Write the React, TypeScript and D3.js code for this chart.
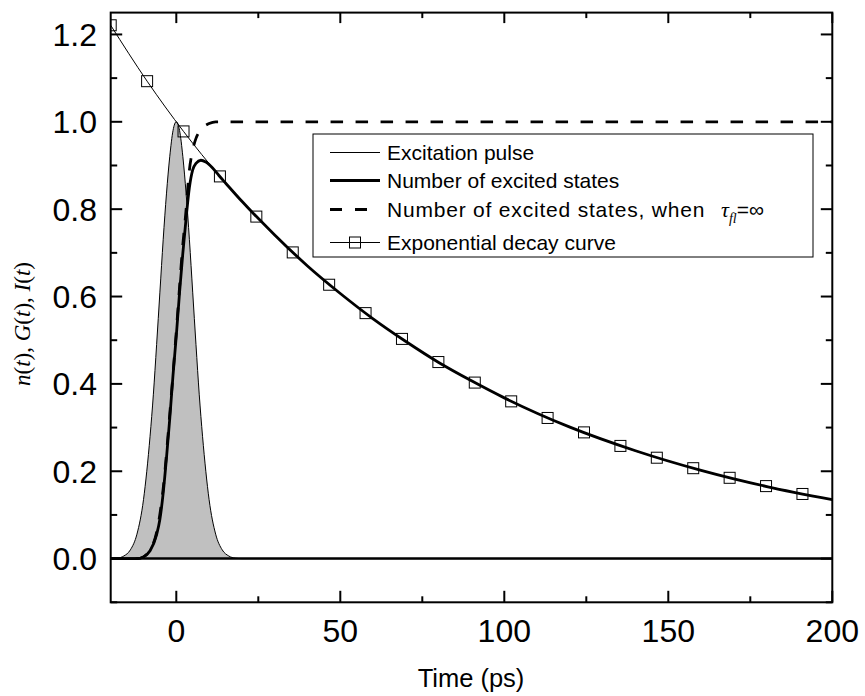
import React from 'react';
import * as d3 from 'd3';

// Excitation pulse G(t)
const pulseT = [-20, -18, -16, -14, -12, -10, -9, -8, -7, -6, -5, -4, -3, -2, -1, 0, 1, 2, 3, 4, 5, 6, 7, 8, 9, 10, 12, 14, 16, 18, 20, 200];
const pulseG = [0, 0.001, 0.006, 0.02, 0.056, 0.135, 0.2, 0.28, 0.375, 0.49, 0.61, 0.73, 0.835, 0.92, 0.98, 1.0, 0.98, 0.92, 0.835, 0.73, 0.61, 0.49, 0.375, 0.28, 0.2, 0.135, 0.056, 0.02, 0.006, 0.001, 0, 0];

// Number of excited states n(t)
const nT = [-20, -12, -10, -8, -6, -5, -4, -3, -2, -1, 0, 1, 2, 3, 4, 5, 6, 7.5, 9, 11, 13, 15, 20, 30, 40, 50, 60, 70, 80, 90, 100, 120, 140, 160, 180, 200];
const nVal = [0, 0, 0.004, 0.018, 0.055, 0.09, 0.15, 0.23, 0.32, 0.42, 0.51, 0.61, 0.7, 0.78, 0.85, 0.89, 0.905, 0.912, 0.908, 0.895, 0.877, 0.86, 0.818, 0.741, 0.67, 0.607, 0.549, 0.497, 0.449, 0.407, 0.368, 0.301, 0.247, 0.202, 0.165, 0.135];

// Number of excited states when tau_fl = infinity
const infT = [-20, -12, -10, -8, -6, -4, -2, 0, 2, 3, 3.5, 4, 5, 6, 7, 8, 10, 12, 200];
const infVal = [0, 0, 0.004, 0.02, 0.06, 0.16, 0.33, 0.52, 0.72, 0.8, 0.85, 0.89, 0.935, 0.962, 0.977, 0.986, 0.996, 1.0, 1.0];

// Exponential decay curve (markers) + line end
const decayT = [-20, -8.9, 2.2, 13.3, 24.4, 35.5, 46.6, 57.7, 68.8, 79.9, 91, 102.1, 113.2, 124.3, 135.4, 146.5, 157.6, 168.7, 179.8, 190.9];
const decayVal = [1.221, 1.093, 0.978, 0.875, 0.783, 0.701, 0.627, 0.562, 0.503, 0.45, 0.403, 0.36, 0.322, 0.289, 0.258, 0.231, 0.207, 0.185, 0.166, 0.148];
const decayEndT = 200;
const decayEndVal = 0.135;

const xMajorTicks = [0, 50, 100, 150, 200];
const xMinorTicks = [25, 75, 125, 175];
const yMajorTicks = [0, 0.2, 0.4, 0.6, 0.8, 1.0, 1.2];
const yMinorTicks = [-0.1, 0.1, 0.3, 0.5, 0.7, 0.9, 1.1];

const legendLabels = ['Excitation pulse', 'Number of excited states', 'Number of excited states, when ', 'Exponential decay curve'];
const xTitle = 'Time (ps)';

const W = 865;
const H = 696;
const L = 110.7, R = 832.3, T = 12.6, B = 602.3;

export default function App() {
  const x = d3.scaleLinear().domain([-20, 200]).range([L, R]);
  const y = d3.scaleLinear().domain([-0.1, 1.25]).range([B, T]);

  const pulsePts = pulseT.map((t, i) => [t, pulseG[i]] as [number, number]);
  const nPts = nT.map((t, i) => [t, nVal[i]] as [number, number]);
  const infPts = infT.map((t, i) => [t, infVal[i]] as [number, number]);
  const decayPts = decayT.map((t, i) => [t, decayVal[i]] as [number, number]);
  const decayLinePts = [...decayPts, [decayEndT, decayEndVal] as [number, number]];

  const line = d3.line<[number, number]>().x(d => x(d[0])).y(d => y(d[1])).curve(d3.curveMonotoneX);
  const area = d3.area<[number, number]>().x(d => x(d[0])).y0(y(0)).y1(d => y(d[1])).curve(d3.curveMonotoneX);

  const sans = 'Arial, "Liberation Sans", Helvetica, sans-serif';
  const serif = '"Times New Roman", "Liberation Serif", Times, serif';
  const ms = 11;

  const legX0 = 330, legX1 = 380, legTx = 387;
  const rowY = [152.5, 180.5, 209.5, 242.5];

  return (
    <svg width={W} height={H} style={{ position: 'absolute', left: 0, top: 0, background: '#fff' }}>
      <defs>
        <clipPath id="plotclip">
          <rect x={L} y={T} width={R - L} height={B - T} />
        </clipPath>
      </defs>
      <rect x={0} y={0} width={W} height={H} fill="#fff" />
      <g clipPath="url(#plotclip)">
        <path d={area(pulsePts) || ''} fill="#c0c0c0" stroke="none" />
        <path d={line(pulsePts) || ''} fill="none" stroke="#000" strokeWidth={1} />
        <line x1={x(-20)} x2={x(200)} y1={y(0)} y2={y(0)} stroke="#000" strokeWidth={2.5} />
        <path d={line(decayLinePts) || ''} fill="none" stroke="#000" strokeWidth={1} />
        {decayPts.map((d, i) => (
          <rect key={i} x={x(d[0]) - ms / 2} y={y(d[1]) - ms / 2} width={ms} height={ms} fill="none" stroke="#000" strokeWidth={1} />
        ))}
        <path d={line(infPts) || ''} fill="none" stroke="#000" strokeWidth={2.8} strokeDasharray="12.5 12.5" />
        <path d={line(nPts) || ''} fill="none" stroke="#000" strokeWidth={2.8} />
      </g>

      {/* frame */}
      <rect x={L} y={T} width={R - L} height={B - T} fill="none" stroke="#000" strokeWidth={2} />

      {/* x ticks */}
      {xMajorTicks.map(t => (
        <g key={'xm' + t}>
          <line x1={x(t)} x2={x(t)} y1={B} y2={B - 11.5} stroke="#000" strokeWidth={2} />
          <line x1={x(t)} x2={x(t)} y1={T} y2={T + 10.5} stroke="#000" strokeWidth={2} />
          <text x={x(t)} y={642} fontFamily={sans} fontSize={32} textAnchor="middle" fill="#000">{t}</text>
        </g>
      ))}
      {xMinorTicks.map(t => (
        <g key={'xn' + t}>
          <line x1={x(t)} x2={x(t)} y1={B} y2={B - 6} stroke="#000" strokeWidth={2} />
          <line x1={x(t)} x2={x(t)} y1={T} y2={T + 5.5} stroke="#000" strokeWidth={2} />
        </g>
      ))}

      {/* y ticks */}
      {yMajorTicks.map(t => (
        <g key={'ym' + t}>
          <line x1={L} x2={L + 11.5} y1={y(t)} y2={y(t)} stroke="#000" strokeWidth={2} />
          <line x1={R} x2={R - 11.5} y1={y(t)} y2={y(t)} stroke="#000" strokeWidth={2} />
          <text x={97} y={y(t)} dy="0.36em" fontFamily={sans} fontSize={32} textAnchor="end" fill="#000">{t.toFixed(1)}</text>
        </g>
      ))}
      {yMinorTicks.map(t => (
        <g key={'yn' + t}>
          <line x1={L} x2={L + 6.5} y1={y(t)} y2={y(t)} stroke="#000" strokeWidth={2} />
          <line x1={R} x2={R - 6.5} y1={y(t)} y2={y(t)} stroke="#000" strokeWidth={2} />
        </g>
      ))}

      {/* axis titles */}
      <text x={471} y={687} fontFamily={sans} fontSize={25.5} textAnchor="middle" fill="#000">{xTitle}</text>
      <text transform="translate(30,324) rotate(-90)" fontFamily={serif} fontSize={23} textAnchor="middle" fill="#000">
        <tspan fontStyle="italic">n</tspan>(<tspan fontStyle="italic">t</tspan>), <tspan fontStyle="italic">G</tspan>(<tspan fontStyle="italic">t</tspan>), <tspan fontStyle="italic">I</tspan>(<tspan fontStyle="italic">t</tspan>)
      </text>

      {/* legend */}
      <rect x={313} y={134} width={500} height={123} fill="#fff" stroke="#000" strokeWidth={1} />
      <line x1={legX0} x2={legX1} y1={rowY[0]} y2={rowY[0]} stroke="#000" strokeWidth={1} />
      <line x1={legX0} x2={legX1} y1={rowY[1]} y2={rowY[1]} stroke="#000" strokeWidth={2.8} />
      <line x1={legX0} x2={legX1} y1={rowY[2]} y2={rowY[2]} stroke="#000" strokeWidth={2.8} strokeDasharray="12 13" />
      <line x1={legX0} x2={legX1} y1={rowY[3]} y2={rowY[3]} stroke="#000" strokeWidth={1} />
      <rect x={(legX0 + legX1) / 2 - ms / 2} y={rowY[3] - ms / 2} width={ms} height={ms} fill="#fff" stroke="#000" strokeWidth={1} />
      <line x1={(legX0 + legX1) / 2 - ms / 2} x2={(legX0 + legX1) / 2 + ms / 2} y1={rowY[3]} y2={rowY[3]} stroke="#000" strokeWidth={1} />
      {[0, 1, 3].map(i => (
        <text key={i} x={legTx} y={rowY[i] + 7.5} fontFamily={sans} fontSize={21} fill="#000">{legendLabels[i]}</text>
      ))}
      <text x={legTx} y={rowY[2] + 7.5} fontFamily={sans} fontSize={21} fill="#000">
        <tspan letterSpacing={0.8}>{legendLabels[2]}</tspan>
        <tspan x={721} fontFamily={serif} fontStyle="italic" fontSize={22}>τ</tspan>
        <tspan fontFamily={serif} fontStyle="italic" fontSize={14} dy={6}>fl</tspan>
        <tspan dy={-6}>=∞</tspan>
      </text>
    </svg>
  );
}
